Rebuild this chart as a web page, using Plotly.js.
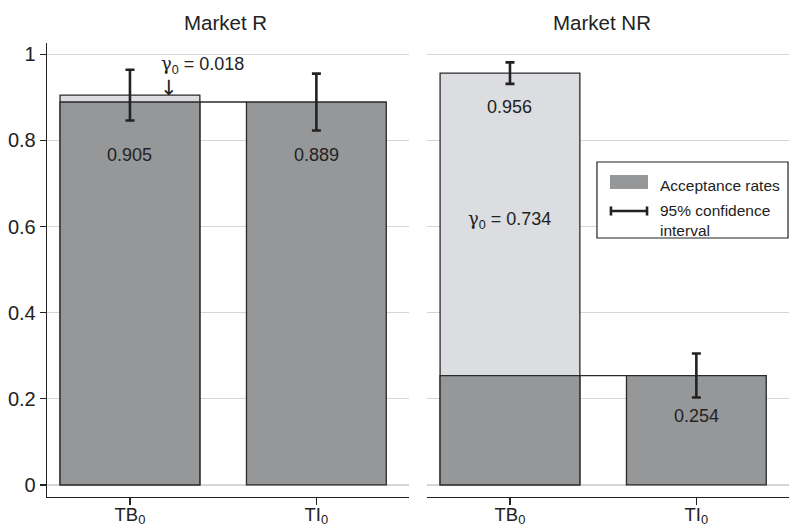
<!DOCTYPE html>
<html>
<head>
<meta charset="utf-8">
<script src="https://cdn.plot.ly/plotly-3.0.1.min.js"></script>
<style>html,body{margin:0;padding:0;background:#fff;}#chart{width:791px;height:527px;}</style>
</head>
<body>
<div id="chart"></div>
<script>
// ---- data ----
const categories = ['TB<sub>0</sub>', 'TI<sub>0</sub>'];
const panelTitles = ['Market R', 'Market NR'];
const ratesR = [0.905, 0.889];     // acceptance rates, market R
const ratesNR = [0.956, 0.254];    // acceptance rates, market NR
const ciR = [0.059, 0.066];        // half-width of 95% CI, market R
const ciNR = [0.025, 0.051];       // half-width of 95% CI, market NR
const gammaR = 0.018;
const gammaNR = 0.734;
const rateLabelsR = ['0.905', '0.889'];
const rateLabelsNR = ['0.956', '0.254'];
const yTicks = [0, 0.2, 0.4, 0.6, 0.8, 1];
const yTickText = ['0', '0.2', '0.4', '0.6', '0.8', '1'];

// ---- style ----
const FONT = '"Liberation Sans", Arial, Helvetica, sans-serif';
const DARK = '#969799';
const LIGHT = '#dcdde0';
const EDGE = '#2a2a2a';
const INK = '#222222';
const GRID = '#d6d6d6';
const BW = 0.75;

function panelTraces(rates, ci, xa, ya) {
  const tiRate = rates[1];
  return [
    { type: 'bar', x: [categories[0]], y: [rates[0]], width: BW, xaxis: xa, yaxis: ya,
      marker: { color: LIGHT, line: { color: EDGE, width: 1.3 } }, showlegend: false, hoverinfo: 'skip' },
    { type: 'bar', x: categories, y: [tiRate, tiRate], width: BW, xaxis: xa, yaxis: ya,
      marker: { color: DARK, line: { color: EDGE, width: 1.3 } }, showlegend: false, hoverinfo: 'skip' },
    { type: 'scatter', mode: 'markers', x: categories, y: rates, xaxis: xa, yaxis: ya,
      marker: { size: 1, color: 'rgba(0,0,0,0)' },
      error_y: { type: 'data', array: ci, visible: true, color: INK, thickness: 2.6, width: 4.5 },
      showlegend: false, hoverinfo: 'skip' }
  ];
}

const data = [].concat(
  panelTraces(ratesR, ciR, 'x', 'y'),
  panelTraces(ratesNR, ciNR, 'x2', 'y2')
);

const xRange = [-0.445, 1.497];
const yRange = [-0.028, 1.026];

function xAxis(domain, anchor) {
  return {
    domain: domain, anchor: anchor, type: 'category', categoryorder: 'array', categoryarray: categories,
    range: xRange, showline: true, linecolor: INK, linewidth: 1.3, ticks: 'outside', ticklen: 7,
    tickwidth: 1.3, tickcolor: INK, showgrid: false, zeroline: false, fixedrange: true,
    ticklabelstandoff: -7,
    tickfont: { family: FONT, size: 18.5, color: INK }
  };
}

function ann(xref, yref, x, y, text, font, extra) {
  return Object.assign({ xref: xref, yref: yref, x: x, y: y, text: text, showarrow: false,
    xanchor: 'center', yanchor: 'middle', font: font }, extra || {});
}

const numFont = { family: FONT, size: 18, color: INK };
const titleFont = { family: FONT, size: 20.5, color: INK };
const legFont = { family: FONT, size: 15.5, color: INK };
const gammaText = g => '<span style="font-family:\'DejaVu Serif\';">γ</span><sub>0</sub> = ' + g.toFixed(3);

const layout = {
  width: 791, height: 527,
  margin: { l: 47, r: 0, t: 43, b: 30, pad: 0 },
  paper_bgcolor: '#ffffff', plot_bgcolor: '#ffffff',
  barmode: 'overlay',
  showlegend: false,
  font: { family: FONT, color: INK },
  xaxis: xAxis([0, 0.4866], 'y'),
  xaxis2: xAxis([0.5108, 0.9973], 'y2'),
  yaxis: {
    domain: [0, 1], anchor: 'x', range: yRange, tickvals: yTicks, ticktext: yTickText,
    showline: true, linecolor: INK, linewidth: 1.3, ticks: 'outside', ticklen: 6, tickwidth: 1.3,
    tickcolor: INK, showgrid: true, gridcolor: GRID, gridwidth: 1.3, zeroline: false,
    tickfont: { family: FONT, size: 20, color: INK }, fixedrange: true
  },
  yaxis2: {
    domain: [0, 1], anchor: 'x2', range: yRange, tickvals: yTicks, showticklabels: false,
    showline: false, ticks: '', showgrid: true, gridcolor: GRID, gridwidth: 1.3, zeroline: false,
    fixedrange: true
  },
  shapes: [
    // connecting lines at TI level
    { type: 'line', xref: 'x', yref: 'y', x0: BW / 2, x1: 1 - BW / 2, y0: ratesR[1], y1: ratesR[1],
      line: { color: EDGE, width: 1.3 } },
    { type: 'line', xref: 'x2', yref: 'y2', x0: BW / 2, x1: 1 - BW / 2, y0: ratesNR[1], y1: ratesNR[1],
      line: { color: EDGE, width: 1.3 } },
    // legend box
    { type: 'rect', xref: 'paper', yref: 'paper', x0: 0.7392, x1: 0.9960, y0: 0.5705, y1: 0.7379,
      line: { color: INK, width: 1.2 }, fillcolor: '#ffffff', layer: 'above' },
    { type: 'rect', xref: 'paper', yref: 'paper', x0: 0.7567, x1: 0.8078, y0: 0.6784, y1: 0.7093,
      line: { width: 0 }, fillcolor: DARK, layer: 'above' },
    { type: 'line', xref: 'paper', yref: 'paper', x0: 0.7567, x1: 0.8078, y0: 0.6300, y1: 0.6300,
      line: { color: INK, width: 2.4 }, layer: 'above' },
    { type: 'line', xref: 'paper', yref: 'paper', x0: 0.7580, x1: 0.7580, y0: 0.6200, y1: 0.6400,
      line: { color: INK, width: 2.6 }, layer: 'above' },
    { type: 'line', xref: 'paper', yref: 'paper', x0: 0.8065, x1: 0.8065, y0: 0.6200, y1: 0.6400,
      line: { color: INK, width: 2.6 }, layer: 'above' }
  ],
  annotations: [
    ann('paper', 'paper', 0.2396, 1.046, panelTitles[0], titleFont),
    ann('paper', 'paper', 0.7460, 1.046, panelTitles[1], titleFont),
    // rate labels
    ann('x', 'y', 0, 0.766, rateLabelsR[0], numFont),
    ann('x', 'y', 1, 0.766, rateLabelsR[1], numFont),
    ann('x2', 'y2', 0, 0.877, rateLabelsNR[0], numFont),
    ann('x2', 'y2', 1, 0.160, rateLabelsNR[1], numFont),
    // gamma labels
    ann('x', 'y', 0.39, 0.975, gammaText(gammaR), numFont),
    ann('x', 'y', 0.21, 0.922, '↓', { family: '"DejaVu Sans", sans-serif', size: 21, color: INK }),
    ann('x2', 'y2', 0, 0.615, gammaText(gammaNR), numFont),
    // legend text
    ann('paper', 'paper', 0.8212, 0.6860, 'Acceptance rates', legFont, { xanchor: 'left' }),
    ann('paper', 'paper', 0.8212, 0.6080, '95% confidence<br>interval', legFont, { xanchor: 'left', align: 'left' })
  ]
};

Plotly.newPlot('chart', data, layout, { staticPlot: true, displayModeBar: false });
</script>
</body>
</html>
